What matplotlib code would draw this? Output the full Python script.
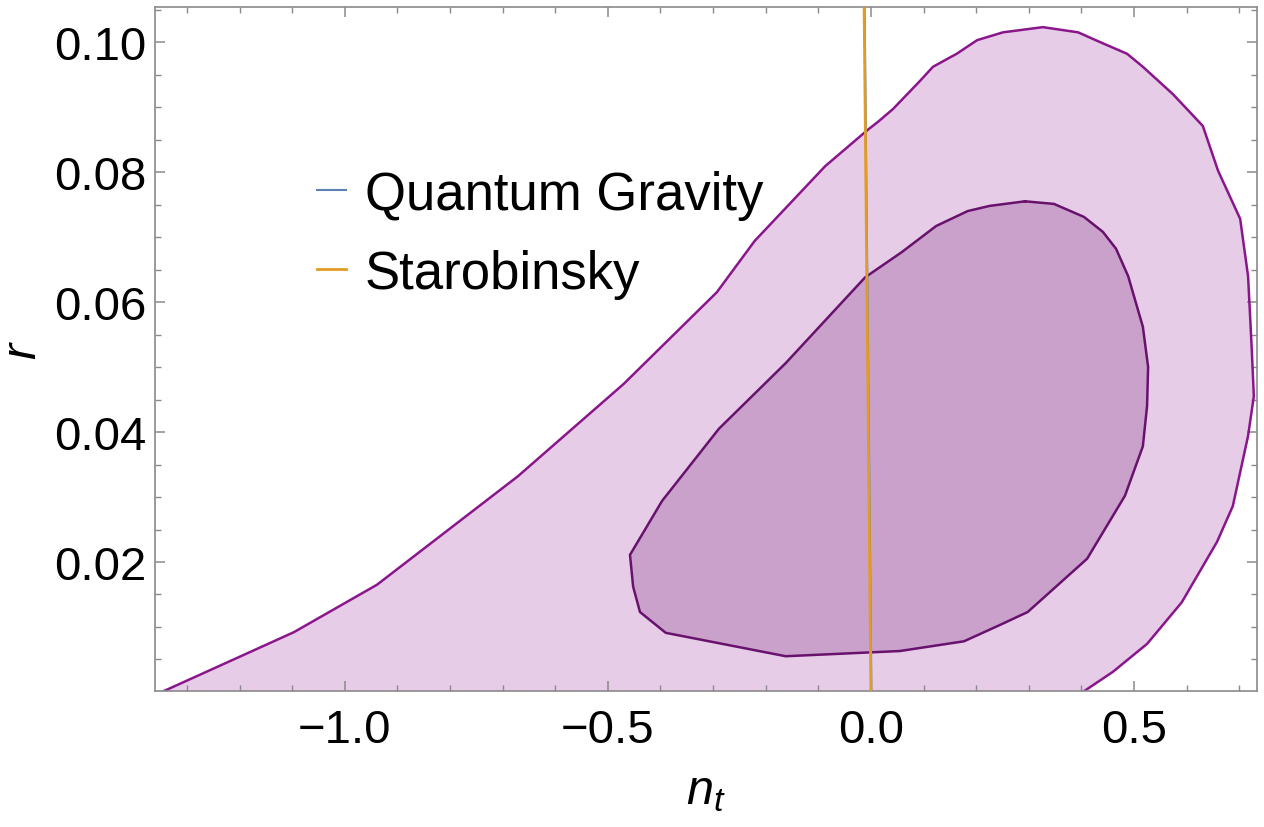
import matplotlib
matplotlib.use("Agg")
import matplotlib.pyplot as plt
from matplotlib.ticker import MultipleLocator, FixedLocator

plt.rcParams['font.family'] = ['Liberation Sans', 'DejaVu Sans']
plt.rcParams['mathtext.fontset'] = 'custom'
plt.rcParams['mathtext.it'] = 'Liberation Sans:italic'
plt.rcParams['mathtext.rm'] = 'Liberation Sans'

# ---- data ----
# outer (95%) contour, n_t and r
outer_nt = [-1.348, -1.097, -0.939, -0.671, -0.470, -0.293, -0.221, -0.087, -0.006,
            0.013, 0.042, 0.093, 0.118, 0.163, 0.202, 0.251, 0.327, 0.394, 0.430,
            0.487, 0.517, 0.574, 0.631, 0.660, 0.702, 0.717, 0.724, 0.728, 0.717,
            0.688, 0.658, 0.591, 0.525, 0.460, 0.403]
outer_r = [0.0000, 0.0092, 0.0165, 0.0332, 0.0474, 0.0615, 0.0694, 0.0809, 0.0865,
           0.0877, 0.0897, 0.0940, 0.0962, 0.0982, 0.1003, 0.1015, 0.1023, 0.1015, 0.1002,
           0.0982, 0.0962, 0.0920, 0.0871, 0.0802, 0.0728, 0.0640, 0.0528, 0.0455, 0.0394,
           0.0286, 0.0231, 0.0138, 0.0074, 0.0031, 0.0000]

# inner (68%) contour
inner_nt = [0.293, 0.348, 0.405, 0.441, 0.466, 0.489, 0.517, 0.527, 0.525, 0.517,
            0.483, 0.411, 0.298, 0.245, 0.177, 0.055, -0.162, -0.390, -0.439, -0.452,
            -0.458, -0.397, -0.289, -0.162, -0.011, 0.059, 0.124, 0.184, 0.226]
inner_r = [0.0755, 0.0751, 0.0731, 0.0708, 0.0682, 0.0640, 0.0562, 0.0500, 0.0440, 0.0378,
           0.0302, 0.0205, 0.0123, 0.0103, 0.0078, 0.0063, 0.0055, 0.0091, 0.0123, 0.0162,
           0.0211, 0.0294, 0.0405, 0.0506, 0.0638, 0.0677, 0.0717, 0.0740, 0.0748]

# model lines
qg_nt = [0.001, -0.012]
qg_r = [0.0, 0.106]
staro_nt = [0.0, -0.013]
staro_r = [0.0, 0.106]

legend_labels = ["Quantum Gravity", "Starobinsky"]

# ---- figure ----
fig = plt.figure(figsize=(12.64, 8.28), dpi=100)
ax = fig.add_axes([155/1264, 1 - 692/828, 1102/1264, 684/828])

# close outer polygon along the bottom edge
ox = outer_nt + [outer_nt[0]]
oy = outer_r + [outer_r[0]]
ax.fill(ox, oy, facecolor='#E6CCE6', edgecolor='none', zorder=1)
ax.plot(outer_nt, outer_r, color='#8A168C', lw=1.8, zorder=2)

ix = inner_nt + [inner_nt[0]]
iy = inner_r + [inner_r[0]]
ax.fill(ix, iy, facecolor='#C9A1CA', edgecolor='none', zorder=3)
ax.plot(ix, iy, color='#68126E', lw=1.8, zorder=4)

l1, = ax.plot(qg_nt, qg_r, color='#5E81B5', lw=1.5, zorder=5)
l2, = ax.plot(staro_nt, staro_r, color='#E19C24', lw=2.0, zorder=6)

ax.set_xlim(-1.361, 0.734)
ax.set_ylim(0.00015, 0.1054)

ax.xaxis.set_major_locator(FixedLocator([-1.0, -0.5, 0.0, 0.5]))
ax.xaxis.set_minor_locator(MultipleLocator(0.1))
ax.yaxis.set_major_locator(FixedLocator([0.02, 0.04, 0.06, 0.08, 0.10]))
ax.yaxis.set_minor_locator(MultipleLocator(0.005))
ax.set_xticklabels(['\u22121.0', '\u22120.5', '0.0', '0.5'])
ax.set_yticklabels(['0.02', '0.04', '0.06', '0.08', '0.10'])

for s in ax.spines.values():
    s.set_color('#8a8a8a')
    s.set_linewidth(1.2)
ax.tick_params(which='both', direction='in', top=True, right=True, color='#8a8a8a')
ax.tick_params(which='major', length=7, width=1.1, labelsize=34)
ax.tick_params(which='minor', length=4, width=1.0)
ax.tick_params(axis='x', which='major', pad=12)
ax.tick_params(axis='y', which='major', pad=6)

ax.set_xlabel(r'$n_t$', fontsize=35, labelpad=12)
ax.set_ylabel(r'$r$', fontsize=35, labelpad=6)

ax.legend([l1, l2], legend_labels, loc='upper left', bbox_to_anchor=(0.147, 0.762),
          frameon=False, fontsize=38, handlelength=0.55, handletextpad=0.36,
          labelspacing=0.55, borderpad=0, borderaxespad=0)

fig.savefig('out.png', dpi=100)
